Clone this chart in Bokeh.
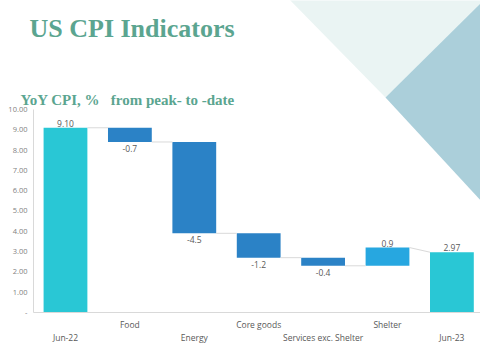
from bokeh.plotting import figure
from bokeh.models import Range1d, FixedTicker, NumeralTickFormatter, Label, ColumnDataSource
from bokeh.core.properties import value
from bokeh.embed import file_html
from bokeh.resources import INLINE

# ---- data ----
categories = ["Jun-22", "Food", "Energy", "Core goods", "Services exc. Shelter", "Shelter", "Jun-23"]
values = [9.10, -0.7, -4.5, -1.2, -0.4, 0.9, 2.97]
kinds = ["total", "delta", "delta", "delta", "delta", "delta", "total"]
value_labels = ["9.10", "-0.7", "-4.5", "-1.2", "-0.4", "0.9", "2.97"]
y_ticks = [0, 1, 2, 3, 4, 5, 6, 7, 8, 9, 10]

TOTAL_C = "#29C7D5"
DOWN_C = "#2B82C6"
UP_C = "#27A7E0"
GRAY = "#595959"
GREEN = "#5BA590"

bottoms, tops, ends, colors = [], [], [], []
running = 0.0
for v, k in zip(values, kinds):
    if k == "total":
        b, t = 0.0, v
        running = v
        colors.append(TOTAL_C)
    else:
        start = running
        running = running + v
        b, t = min(start, running), max(start, running)
        colors.append(DOWN_C if v < 0 else UP_C)
    bottoms.append(b)
    tops.append(t)
    ends.append(running)

xs = list(range(len(categories)))
W = 0.68
X_LEFT = -0.497
X_RIGHT = 6.444

p = figure(width=480, height=360, output_backend="svg", toolbar_location=None,
           x_range=Range1d(-1.009, X_RIGHT), y_range=Range1d(-2.365, 15.37),
           min_border_left=0, min_border_right=0, min_border_top=0, min_border_bottom=0)
p.outline_line_color = None
p.background_fill_color = "white"
p.border_fill_color = "white"
p.xgrid.visible = False
p.ygrid.visible = False

# decorative triangles (page pixel coordinates converted to data space)
def to_data(px, py):
    return ((px - 65.0) / 64.4, (312.0 - py) / 20.3)

light = [to_data(*pt) for pt in [(285, -5), (495, -5), (385, 97)]]
dark = [to_data(*pt) for pt in [(385, 97), (495, -12), (495, 216)]]
p.patch([a for a, b in light], [b for a, b in light], fill_color="#EAF4F3", line_color=None)
p.patch([a for a, b in dark], [b for a, b in dark], fill_color="#ABCFDA", line_color=None)

src = ColumnDataSource(dict(x=xs, bottom=bottoms, top=tops, color=colors))
p.vbar(x="x", width=W, bottom="bottom", top="top", fill_color="color", line_color=None, source=src)

# connectors
cx0, cx1, cy0, cy1 = [], [], [], []
for i in range(len(xs) - 1):
    cx0.append(xs[i] + W / 2)
    cx1.append(xs[i + 1] - W / 2)
    cy0.append(ends[i])
    cy1.append(values[i + 1] if kinds[i + 1] == "total" else ends[i])
p.segment(cx0, cy0, cx1, cy1, line_color="#D9D9D9", line_width=1)

# value labels
ly, loff = [], []
for v, k, b, t in zip(values, kinds, bottoms, tops):
    if k == "total" or v >= 0:
        ly.append(t); loff.append(-4.5)
    else:
        ly.append(b); loff.append(6.5)
p.text(x=xs, y=ly, text=value_labels, y_offset=loff, text_align="center", text_baseline="middle",
       text_font=value("Open Sans"), text_font_size="8.5px", text_color=GRAY)

# axes
p.yaxis.fixed_location = X_LEFT
p.yaxis.ticker = FixedTicker(ticks=y_ticks)
p.yaxis.formatter = NumeralTickFormatter(format="0.00")
p.yaxis.major_label_overrides = {0: "-"}
p.yaxis.bounds = (0, 10)
p.yaxis.axis_line_color = "#D9D9D9"
p.yaxis.major_tick_line_color = None
p.yaxis.minor_tick_line_color = None
p.yaxis.major_tick_out = 0
p.yaxis.major_tick_in = 0
p.yaxis.major_label_standoff = 6
p.yaxis.major_label_text_font = "Open Sans"
p.yaxis.major_label_text_font_size = "7.5px"
p.yaxis.major_label_text_color = "#7F7F7F"

p.xaxis.fixed_location = 0
p.xaxis.ticker = FixedTicker(ticks=xs)
p.xaxis.bounds = (X_LEFT, X_RIGHT)
p.xaxis.major_label_overrides = {i: (c if i % 2 == 1 else "\n" + c) for i, c in enumerate(categories)}
p.xaxis.axis_line_color = "#D9D9D9"
p.xaxis.major_tick_line_color = None
p.xaxis.minor_tick_line_color = None
p.xaxis.major_tick_out = 0
p.xaxis.major_tick_in = 0
p.xaxis.major_label_standoff = 7
p.xaxis.major_label_text_font = "Open Sans"
p.xaxis.major_label_text_font_size = "8.5px"
p.xaxis.major_label_text_color = GRAY
p.xaxis.major_label_text_line_height = 1.1

# titles
tx, ty = to_data(29, 28)
p.add_layout(Label(x=tx, y=ty, text="US CPI Indicators", text_font="Liberation Serif",
                   text_font_style="bold", text_font_size="26px", text_color=GREEN,
                   text_baseline="alphabetic"))
sx, sy = to_data(20, 99)
p.add_layout(Label(x=sx, y=sy, text="YoY CPI, %\u00a0\u00a0\u00a0from peak- to -date",
                   text_font="Liberation Serif", text_font_style="bold", text_font_size="15px",
                   text_color=GREEN, text_baseline="alphabetic"))

open("out.html", "w").write(file_html(p, INLINE))
